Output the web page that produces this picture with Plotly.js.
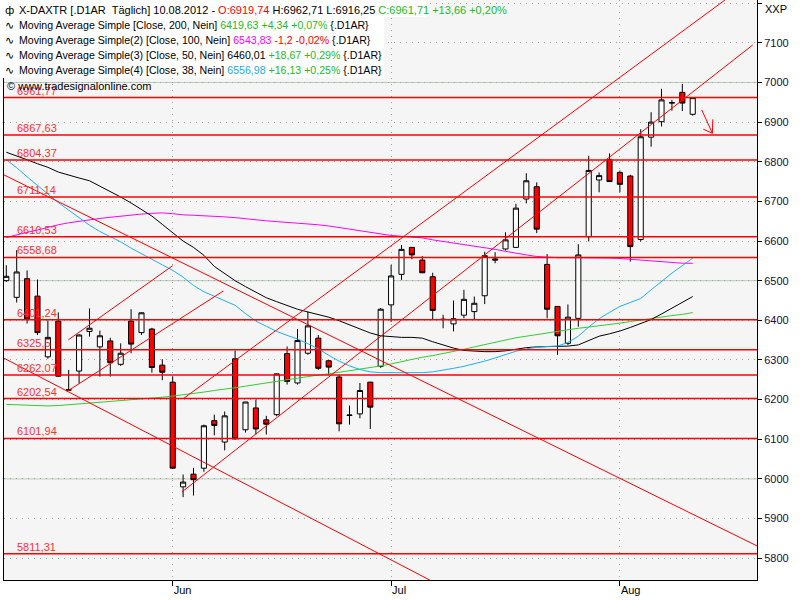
<!DOCTYPE html>
<html>
<head>
<meta charset="utf-8">
<script src="https://cdn.plot.ly/plotly-3.0.1.min.js"></script>
<style>html,body{margin:0;padding:0;background:#fff;}#chart{width:800px;height:600px;}</style>
</head>
<body>
<div id="chart"></div>
<script>
// ---------- DATA ----------
const dates = [
 '2012-05-10','2012-05-11','2012-05-14','2012-05-15','2012-05-16','2012-05-17','2012-05-18','2012-05-21',
 '2012-05-22','2012-05-23','2012-05-24','2012-05-25','2012-05-28','2012-05-29','2012-05-30','2012-05-31',
 '2012-06-01','2012-06-04','2012-06-05','2012-06-06','2012-06-07','2012-06-08','2012-06-11','2012-06-12',
 '2012-06-13','2012-06-14','2012-06-15','2012-06-18','2012-06-19','2012-06-20','2012-06-21','2012-06-22',
 '2012-06-25','2012-06-26','2012-06-27','2012-06-28','2012-06-29','2012-07-02','2012-07-03','2012-07-04',
 '2012-07-05','2012-07-06','2012-07-09','2012-07-10','2012-07-11','2012-07-12','2012-07-13','2012-07-16',
 '2012-07-17','2012-07-18','2012-07-19','2012-07-20','2012-07-23','2012-07-24','2012-07-25','2012-07-26',
 '2012-07-27','2012-07-30','2012-07-31','2012-08-01','2012-08-02','2012-08-03','2012-08-06','2012-08-07',
 '2012-08-08','2012-08-09','2012-08-10'
];
const open  = [6500,6458,6505,6461,6308,6398,6225,6272,6372,6333,6348,6289,6398,6369,6378,6287,
               6244,5980,6012,6027,6147,6093,6303,6124,6179,6149,6162,6316,6242,6317,6355,6298,
               6257,6160,6164,6244,6284,6439,6516,6584,6552,6510,6403,6391,6413,6422,6462,6555,
               6580,6584,6706,6737,6541,6435,6342,6405,6611,6754,6806,6773,6764,6604,6862,6901,
               6948,6975,6919.74];
const high  = [6539,6577,6526,6503,6400,6420,6275,6365,6430,6374,6356,6342,6428,6420,6381,6302,
               6259,6011,6028,6137,6162,6170,6324,6194,6200,6159,6266,6334,6378,6422,6363,6300,
               6263,6185,6242,6245,6431,6540,6590,6585,6562,6520,6414,6450,6477,6460,6573,6572,
               6622,6694,6771,6748,6567,6436,6440,6592,6815,6773,6821,6778,6767,6882,6925,6984,
               6956,6996,6962.71];
const low   = [6497,6445,6392,6363,6303,6258,6222,6241,6359,6258,6258,6285,6317,6363,6268,6249,
               6025,5954,5958,6018,6110,6072,6099,6117,6112,6112,6158,6238,6238,6313,6275,6262,
               6120,6137,6153,6126,6280,6396,6502,6554,6519,6401,6380,6372,6405,6401,6441,6544,
               6576,6583,6695,6620,6405,6313,6338,6384,6599,6723,6749,6723,6548,6599,6838,6889,
               6929,6928,6916.25];
const close = [6511,6522,6403,6369,6357,6259,6224,6363,6380,6361,6293,6317,6340,6419,6281,6269,
               6027,5992,5998,6134,6135,6159,6101,6194,6126,6138,6265,6246,6349,6386,6279,6282,
               6139,6161,6223,6181,6428,6512,6579,6565,6520,6425,6402,6404,6453,6443,6563,6552,
               6603,6683,6752,6630,6428,6361,6408,6565,6778,6765,6750,6743,6586,6863,6900,6956,
               6949,6948,6961.71];
// moving averages (200, 100, 50, 38 days)
const ma200 = [6188,6187,6186,6185,6184,6185,6187,6190,6192,6194,6196,6197,6199,6201,6204,6206,
               6209,6212,6215,6219,6223,6226,6230,6234,6238,6243,6247,6251,6255,6258,6262,6265,
               6269,6272,6276,6280,6285,6290,6296,6302,6307,6311,6316,6321,6327,6333,6339,6345,
               6351,6356,6360,6364,6369,6373,6377,6380,6383,6386,6389,6393,6397,6401,6404,6408,
               6412,6415,6419.63];
const ma100 = [6609,6616,6622,6628,6635,6641,6646,6650,6653,6657,6660,6663,6666,6668,6670,6671,
               6669,6666,6665,6664,6663,6661,6659,6656,6654,6651,6649,6647,6645,6644,6641,6638,
               6634,6630,6625,6621,6617,6614,6612,6610,6608,6603,6599,6596,6592,6588,6584,6579,
               6574,6569,6565,6561,6559,6558,6558,6558,6558,6557,6557,6556,6554,6552,6550,6548,
               6546,6544,6543.83];
const ma50  = [6824,6815,6805,6795,6786,6774,6766,6759,6752,6739,6725,6711,6696,6680,6663,6642,
               6620,6600,6584,6564,6536,6518,6500,6485,6471,6457,6447,6437,6428,6421,6415,6408,
               6399,6389,6379,6368,6361,6359,6357,6357,6355,6346,6337,6330,6324,6322,6321,6321,
               6323,6327,6331,6333,6334,6335,6335,6338,6350,6360,6366,6373,6382,6392,6402,6416,
               6430,6444,6460.01];
const ma38  = [6805,6785,6762,6740,6717,6697,6678,6659,6640,6624,6612,6598,6582,6567,6554,6540,
               6526,6509,6488,6472,6461,6450,6438,6417,6398,6385,6372,6362,6353,6341,6328,6312,
               6297,6285,6276,6270,6268,6268,6268,6268,6268,6270,6274,6279,6284,6290,6297,6305,
               6314,6322,6328,6332,6334,6335,6344,6360,6383,6404,6420,6435,6445,6455,6477,6499,
               6519,6538,6556.98];
// horizontal support / resistance levels
const levels = [6961.77,6867.63,6804.37,6711.14,6610.53,6558.68,6401.24,6325.5,6262.07,6202.54,6101.94,5811.31];
// trend lines: [bar index start, price start, bar index end, price end]
const trendLines = [
  [16.99, 6201.8, 69.1, 7208],
  [16.89, 5967.2, 71.77, 7094.6],
  [5.96, 6350.6, 16.0, 6537.9],
  [5.81, 6220.2, 20.87, 6474.1],
  [-0.22, 6766.7, 72.18, 5831.0],
  [-0.22, 6304.4, 40.74, 5744.5]
];
// forecast arrow: shaft and head [index, price]
const arrowX = [66.87, 67.89, null, 67.02, 67.89, 67.93];
const arrowY = [6930.6, 6871.9, null, 6882, 6871.9, 6907];
const monthTickDates = ['2012-06-01','2012-07-02','2012-08-01'];
const monthLabels = ['Jun','Jul','Aug'];
const solidGrid = [6000, 6500, 7000];

// ---------- CHART ----------
const idx = dates.map((d, i) => i);
const FONT = 'Liberation Sans, Arial, sans-serif';
const RED = '#ff0000';

const traces = [];
const maDefs = [[ma200,'#33cc33'],[ma100,'#ff00ff'],[ma50,'#000000'],[ma38,'#1eb0f0']];
maDefs.forEach(([arr,col]) => traces.push({
  type:'scatter', mode:'lines', x: idx, y: arr, line:{color:col, width:1}, hoverinfo:'skip'
}));
traces.push({
  type:'candlestick', x: idx, open: open, high: high, low: low, close: close,
  increasing:{line:{color:'#000000', width:1}, fillcolor:'#ffffff'},
  decreasing:{line:{color:'#000000', width:1}, fillcolor:RED},
  whiskerwidth:0, hoverinfo:'skip'
});
trendLines.forEach(t => traces.push({
  type:'scatter', mode:'lines', x:[t[0],t[2]], y:[t[1],t[3]], line:{color:RED, width:1}, hoverinfo:'skip'
}));
traces.push({type:'scatter', mode:'lines', x: arrowX, y: arrowY, line:{color:RED, width:1}, hoverinfo:'skip', connectgaps:false});

const shapes = [];
solidGrid.forEach(v => shapes.push({type:'line', xref:'paper', x0:0, x1:1, yref:'y', y0:v, y1:v,
  line:{color:'#b4ccb4', width:1}, layer:'below'}));
levels.forEach(v => shapes.push({type:'line', xref:'paper', x0:0, x1:1, yref:'y', y0:v, y1:v,
  line:{color:RED, width:1.5}, layer:'above'}));
// legend boxes (white)
const px = p => (p - 4) / 753;
const py = p => 1 - p / 580;
shapes.push({type:'rect', xref:'paper', yref:'paper', x0:px(0), x1:px(426), y0:py(17), y1:py(0),
  fillcolor:'#ffffff', line:{width:0}, layer:'above'});
shapes.push({type:'rect', xref:'paper', yref:'paper', x0:px(0), x1:px(384), y0:py(78), y1:py(17),
  fillcolor:'#ffffff', line:{width:0}, layer:'above'});

const annotations = [];
levels.forEach(v => annotations.push({
  xref:'paper', x:px(15), yref:'y', y:v, xanchor:'left', yanchor:'bottom', yshift:-1,
  text:String(v).replace('.', ','), showarrow:false, font:{family:FONT, size:11, color:'#ff3030'}
}));
const G = '#22bb22';
const header = [
  'X-DAXTR [.D1AR  Täglich] 10.08.2012 - <span style="color:#ff0000">O:6919,74</span> H:6962,71 L:6916,25 <span style="color:'+G+'">C:6961,71 +13,66 +0,20%</span>',
  'Moving Average Simple [Close, 200, Nein] <span style="color:'+G+'">6419,63 +4,34 +0,07%</span> {.D1AR}',
  'Moving Average Simple(2) [Close, 100, Nein] <span style="color:#ff00ff">6543,83</span> <span style="color:#ff0000">-1,2 -0,02%</span> {.D1AR}',
  'Moving Average Simple(3) [Close, 50, Nein] 6460,01 <span style="color:'+G+'">+18,67 +0,29%</span> {.D1AR}',
  'Moving Average Simple(4) [Close, 38, Nein] <span style="color:#1eaaee">6556,98</span> <span style="color:'+G+'">+16,13 +0,25%</span> {.D1AR}'
];
const icons = ['ф','∿','∿','∿','∿'];
header.forEach((t, i) => {
  annotations.push({
    xref:'paper', yref:'paper', x:px(17), y:py(10 + i * 15), xanchor:'left', yanchor:'middle',
    text:t, showarrow:false, font:{family:FONT, size: i === 0 ? 11 : 10.6, color:'#000000'}
  });
  annotations.push({
    xref:'paper', yref:'paper', x:px(3), y:py(10 + i * 15), xanchor:'left', yanchor:'middle',
    text:icons[i], showarrow:false, font:{family:'DejaVu Sans, sans-serif', size:11, color:'#000000'}
  });
});
annotations.push({xref:'paper', yref:'paper', x:px(5), y:py(86), xanchor:'left', yanchor:'middle',
  text:'© www.tradesignalonline.com', showarrow:false, font:{family:FONT, size:11, color:'#000000'}});
annotations.push({xref:'paper', yref:'paper', x:px(763), y:py(9), xanchor:'left', yanchor:'middle',
  text:'XXP', showarrow:false, font:{family:FONT, size:11, color:'#000000'}});

const layout = {
  width:800, height:600,
  margin:{l:4, r:43, t:0, b:20, pad:0},
  paper_bgcolor:'#ffffff', plot_bgcolor:'#f5f5f5',
  showlegend:false,
  font:{family:FONT, size:11, color:'#000000'},
  xaxis:{
    type:'linear', range:[-0.22, 72.18], rangeslider:{visible:false},
    tickvals: monthTickDates.map(d => dates.indexOf(d)), ticktext: monthLabels,
    ticks:'outside', ticklen:5, tickcolor:'#000', ticklabelposition:'outside right',
    showgrid:true, gridcolor:'#a0a0a0', griddash:'1px,5px', gridwidth:1,
    showline:true, linecolor:'#000', linewidth:1, mirror:false, zeroline:false,
    tickfont:{family:FONT, size:11, color:'#000'}, fixedrange:true
  },
  yaxis:{
    side:'right', range:[5745, 7208], dtick:100, tick0:0,
    ticks:'outside', ticklen:4, tickcolor:'#000',
    showgrid:true, gridcolor:'#a0a0a0', griddash:'1px,5px', gridwidth:1,
    showline:true, linecolor:'#000', linewidth:1, mirror:true, zeroline:false,
    tickfont:{family:FONT, size:11, color:'#10103a'}, fixedrange:true
  },
  shapes: shapes,
  annotations: annotations
};
Plotly.newPlot('chart', traces, layout, {staticPlot:true, displayModeBar:false});
</script>
</body>
</html>
